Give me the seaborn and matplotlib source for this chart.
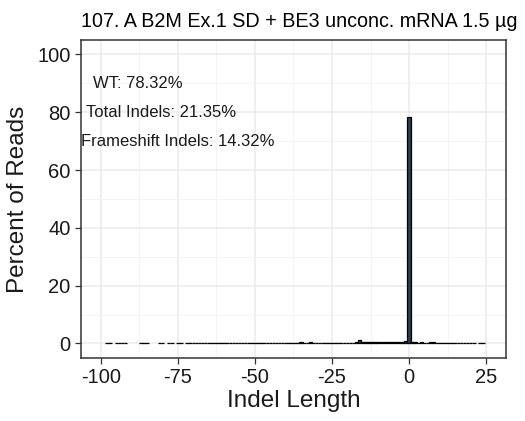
import matplotlib
matplotlib.use("Agg")
import matplotlib.pyplot as plt
from matplotlib.ticker import MultipleLocator
import seaborn as sns

TITLE = "107. A B2M Ex.1 SD + BE3 unconc. mRNA 1.5 µg"

indel_length = [
    -98, -97, -95, -94, -93, -92, -87, -86, -85, -81, -80, -78, -77,
    -75, -74, -72, -71, -70, -69, -68, -67, -66, -65, -64, -63, -62, -61,
    -60, -59, -58, -57, -56, -55, -54, -53, -52, -51, -50, -49, -48, -47,
    -46, -45, -44, -43, -42, -41, -40, -39, -38, -37, -36, -35, -34, -33,
    -32, -31, -30, -29, -28, -27, -26, -25, -24, -23, -22, -21, -20, -19,
    -18, -17, -16, -15, -14, -13, -12, -11, -10, -9, -8, -7, -6, -5, -4,
    -3, -2, -1, 0, 1, 2, 3, 4, 5, 6, 7, 8, 9, 10, 11, 12, 13, 14, 15, 16,
    17, 18, 19, 20, 21, 23, 24,
]
percent_reads = [
    0.05, 0.05, 0.05, 0.05, 0.05, 0.05, 0.05, 0.05, 0.05, 0.05, 0.05, 0.05, 0.05,
    0.05, 0.06, 0.05, 0.07, 0.05, 0.08, 0.06, 0.05, 0.07, 0.06, 0.05, 0.06, 0.07, 0.06,
    0.05, 0.06, 0.08, 0.07, 0.06, 0.08, 0.10, 0.09, 0.08, 0.10, 0.12, 0.10, 0.11, 0.10,
    0.12, 0.14, 0.13, 0.12, 0.15, 0.14, 0.20, 0.16, 0.15, 0.18, 0.20, 0.35, 0.18, 0.20,
    0.32, 0.20, 0.18, 0.20, 0.22, 0.25, 0.20, 0.22, 0.24, 0.20, 0.25, 0.28, 0.30, 0.26,
    0.30, 0.35, 1.35, 0.35, 0.40, 0.38, 0.42, 0.45, 0.40, 0.50, 0.65, 0.60, 0.45, 0.50, 0.55,
    0.60, 0.50, 0.70, 78.32, 0.40, 0.35, 0.30, 0.32, 0.28, 0.30, 0.35, 0.40, 0.30, 0.25,
    0.22, 0.20, 0.18, 0.15, 0.14, 0.12, 0.10, 0.10, 0.08, 0.07, 0.06, 0.05, 0.05,
]

stats_labels = ["WT: 78.32%", "Total Indels: 21.35%", "Frameshift Indels: 14.32%"]
stats_x = [-87.9, -80.4, -74.9]
stats_y = [90, 80, 70]

plt.rcParams["font.family"] = ["Liberation Sans", "DejaVu Sans"]
plt.rcParams["axes.unicode_minus"] = False

fig, ax = plt.subplots(figsize=(5.25, 4.21), dpi=100)
fig.subplots_adjust(left=0.154, right=0.964, top=0.905, bottom=0.150)

sns.barplot(
    x=indel_length,
    y=percent_reads,
    native_scale=True,
    width=1.15,
    color="#2c3e50",
    saturation=1,
    edgecolor="black",
    linewidth=0.9,
    errorbar=None,
    ax=ax,
    zorder=3,
)

ax.set_xlim(-106.5, 31.5)
ax.set_ylim(-5, 105)
ax.xaxis.set_major_locator(MultipleLocator(25))
ax.xaxis.set_minor_locator(MultipleLocator(12.5))
ax.yaxis.set_major_locator(MultipleLocator(20))
ax.yaxis.set_minor_locator(MultipleLocator(10))
ax.set_axisbelow(True)
ax.grid(which="major", color="#ebebeb", linewidth=1.1)
ax.grid(which="minor", color="#f2f2f2", linewidth=0.6)
ax.tick_params(which="minor", length=0)
ax.tick_params(which="major", length=4, width=0.9, color="#333333",
               labelsize=14.5, labelcolor="#1a1a1a")
for s in ax.spines.values():
    s.set_color("#333333")
    s.set_linewidth(1.1)

ax.set_xlabel("Indel Length", fontsize=17.5, color="#1a1a1a", labelpad=2)
ax.set_ylabel("Percent of Reads", fontsize=17.5, color="#1a1a1a", labelpad=6)
ax.set_title(TITLE, fontsize=14.2, loc="left", x=0.0, pad=9)

for lab, tx, ty in zip(stats_labels, stats_x, stats_y):
    ax.text(tx, ty, lab, ha="center", va="center", fontsize=12, color="#1a1a1a")

fig.savefig("out.png", dpi=100)
